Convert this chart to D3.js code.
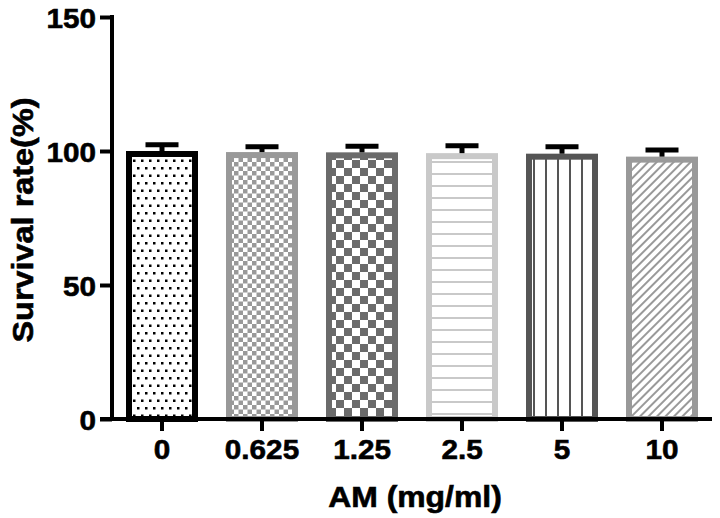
<!DOCTYPE html>
<html><head><meta charset="utf-8">
<script src="https://cdn.jsdelivr.net/npm/d3@7"></script>
<style>body{margin:0;background:#fff}svg{display:block}text{font-family:"Liberation Sans",Arial,sans-serif;font-weight:bold;fill:#000;stroke:#000;stroke-width:0.6px}</style>
</head><body>
<svg id="c" width="720" height="518"></svg>
<script>
const categories = ["0","0.625","1.25","2.5","5","10"];
const values = [100, 99.6, 99.5, 99.2, 99.0, 97.9];
const errors = [2.3, 2.0, 2.3, 2.8, 2.6, 2.5];
const yTicks = [0, 50, 100, 150];
const colors = ["#000000","#999999","#6b6b6b","#c9c9c9","#555555","#999999"];
const patterns = ["dots","fineCheck","coarseCheck","hlines","vlines","diag"];

const svg = d3.select("#c");
const mLeft = 112, mRight = 712, mTop = 17, mBottom = 419;
const x = d3.scaleBand().domain(categories).range([mLeft, mRight]).paddingInner(0.28).paddingOuter(0.14);
const y = d3.scaleLinear().domain([0,150]).range([mBottom, mTop]);

const defs = svg.append("defs");
function pat(id, w, h){ return defs.append("pattern").attr("id",id).attr("patternUnits","userSpaceOnUse").attr("width",w).attr("height",h); }
let p = pat("dots", 8, 15);
p.append("rect").attr("width",8).attr("height",15).attr("fill","#fff");
p.append("rect").attr("x",1).attr("y",2).attr("width",2.5).attr("height",2.5).attr("fill","#000");
p.append("rect").attr("x",5).attr("y",9.5).attr("width",2.5).attr("height",2.5).attr("fill","#000");
p = pat("fineCheck", 9, 9);
p.append("rect").attr("width",9).attr("height",9).attr("fill","#fff");
p.append("rect").attr("width",4.5).attr("height",4.5).attr("fill","#999");
p.append("rect").attr("x",4.5).attr("y",4.5).attr("width",4.5).attr("height",4.5).attr("fill","#999");
p = pat("coarseCheck", 16, 16);
p.append("rect").attr("width",16).attr("height",16).attr("fill","#fff");
p.append("rect").attr("width",8).attr("height",8).attr("fill","#6b6b6b");
p.append("rect").attr("x",8).attr("y",8).attr("width",8).attr("height",8).attr("fill","#6b6b6b");
p = pat("hlines", 12, 12);
p.append("rect").attr("width",12).attr("height",12).attr("fill","#fff");
p.append("rect").attr("y",5).attr("width",12).attr("height",2).attr("fill","#c9c9c9");
p = pat("vlines", 12, 12);
p.append("rect").attr("width",12).attr("height",12).attr("fill","#fff");
p.append("rect").attr("x",5).attr("width",2).attr("height",12).attr("fill","#555");
p = pat("diag", 6, 6).attr("patternTransform","rotate(45)");
p.append("rect").attr("width",6).attr("height",6).attr("fill","#fff");
p.append("rect").attr("x",2).attr("width",2).attr("height",6).attr("fill","#999");

const sw = 6;
const g = svg.append("g");
categories.forEach((c,i)=>{
  const x0 = x(c), bw = x.bandwidth();
  g.append("rect").attr("x", x0+sw/2).attr("y", y(values[i])+sw/2)
    .attr("width", bw-sw).attr("height", mBottom - y(values[i]) - sw/2)
    .attr("fill", `url(#${patterns[i]})`).attr("stroke", colors[i]).attr("stroke-width", sw);
  const cx = x0 + bw/2;
  g.append("line").attr("x1",cx).attr("x2",cx).attr("y1",y(values[i])).attr("y2",y(values[i]+errors[i]))
    .attr("stroke","#000").attr("stroke-width",5);
  g.append("line").attr("x1",cx-16.5).attr("x2",cx+16.5).attr("y1",y(values[i]+errors[i])).attr("y2",y(values[i]+errors[i]))
    .attr("stroke","#000").attr("stroke-width",5);
});

const ya = svg.append("g").attr("transform",`translate(${mLeft},0)`)
  .call(d3.axisLeft(y).tickValues(yTicks).tickSize(12).tickPadding(4));
const xa = svg.append("g").attr("transform",`translate(0,${mBottom})`)
  .call(d3.axisBottom(x).tickSize(12).tickPadding(10));
[ya,xa].forEach(a=>{
  a.select(".domain").remove();
  a.selectAll("line").attr("stroke","#000").attr("stroke-width",4);
  a.selectAll("text").style("font-size","28px").attr("fill","#000");
});
svg.append("line").attr("x1",mLeft).attr("x2",mLeft).attr("y1",mTop-2).attr("y2",mBottom+2).attr("stroke","#000").attr("stroke-width",4);
svg.append("line").attr("x1",mLeft-12).attr("x2",mRight).attr("y1",mBottom).attr("y2",mBottom).attr("stroke","#000").attr("stroke-width",4);
xa.selectAll("text").attr("dy","0.66em");
ya.selectAll("text").attr("dy","0.36em");

function stretch(sel, f){ sel.each(function(){ const L=this.getComputedTextLength(); d3.select(this).attr("textLength", L*f).attr("lengthAdjust","spacingAndGlyphs"); }); }
stretch(ya.selectAll("text"),1.06);
stretch(xa.selectAll("text"),1.06);

const xt = svg.append("text").attr("x",(mLeft+mRight)/2+3).attr("y",507).attr("text-anchor","middle").style("font-size","29px").text("AM (mg/ml)");
stretch(xt,1.1);
const yt = svg.append("text").attr("transform",`translate(33,${(mTop+mBottom)/2+2}) rotate(-90)`).attr("text-anchor","middle").style("font-size","30px").text("Survival rate(%)")
  .attr("textLength",245).attr("lengthAdjust","spacingAndGlyphs");
</script>
</body></html>
